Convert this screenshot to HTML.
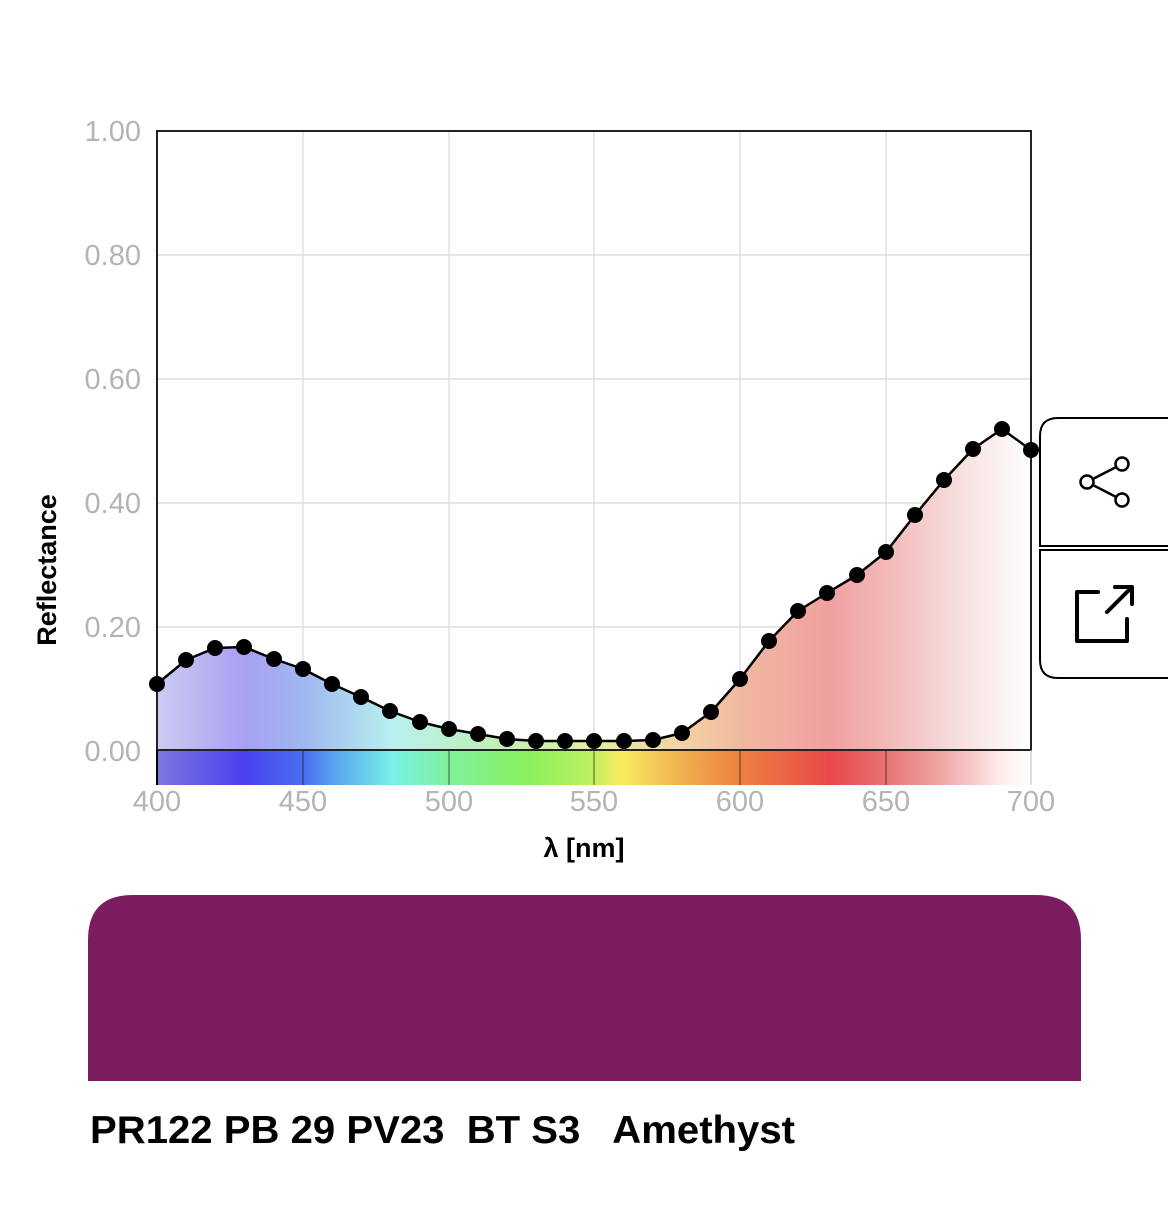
<!DOCTYPE html>
<html><head><meta charset="utf-8"><style>
body{margin:0;background:#fff;width:1170px;height:1228px;overflow:hidden;font-family:"Liberation Sans",sans-serif;}
</style></head><body>
<svg width="1170" height="1228" xmlns="http://www.w3.org/2000/svg" style="position:absolute;left:0;top:0">
<defs>
<linearGradient id="bar" x1="157" x2="1031" y1="0" y2="0" gradientUnits="userSpaceOnUse">
<stop offset="0" stop-color="#7a78e0"/><stop offset="0.1" stop-color="#4a40f0"/><stop offset="0.17" stop-color="#4a70f0"/>
<stop offset="0.2" stop-color="#56a0f0"/><stop offset="0.27" stop-color="#7af0e8"/><stop offset="0.33" stop-color="#80f0a0"/>
<stop offset="0.42" stop-color="#88f060"/><stop offset="0.5" stop-color="#c0f060"/><stop offset="0.53" stop-color="#f8ec60"/>
<stop offset="0.6" stop-color="#f0b050"/><stop offset="0.67" stop-color="#ec8040"/><stop offset="0.77" stop-color="#e84848"/>
<stop offset="0.83" stop-color="#e87070"/><stop offset="0.9" stop-color="#f0a8a8"/><stop offset="0.97" stop-color="#fff0f0"/><stop offset="1" stop-color="#fff"/>
</linearGradient>
<linearGradient id="fill" x1="157" x2="1031" y1="0" y2="0" gradientUnits="userSpaceOnUse">
<stop offset="0" stop-color="#ccccf2"/><stop offset="0.1" stop-color="#a8a0f2"/><stop offset="0.17" stop-color="#a0b8f0"/>
<stop offset="0.27" stop-color="#b8f0f0"/><stop offset="0.4" stop-color="#c0f0b0"/><stop offset="0.5" stop-color="#e4f0a0"/>
<stop offset="0.6" stop-color="#f4d2a4"/><stop offset="0.67" stop-color="#f0b8a0"/><stop offset="0.77" stop-color="#f0a0a0"/>
<stop offset="0.83" stop-color="#f2b6b6"/><stop offset="0.93" stop-color="#f8e4e4"/><stop offset="1" stop-color="#fff"/>
</linearGradient>
</defs>
<g stroke="#d8d8d8" stroke-width="1.2">
<line x1="157" x2="1031" y1="255" y2="255"/><line x1="157" x2="1031" y1="379" y2="379"/><line x1="157" x2="1031" y1="503" y2="503"/><line x1="157" x2="1031" y1="627" y2="627"/>
<line x1="303" x2="303" y1="131" y2="750"/><line x1="449" x2="449" y1="131" y2="750"/><line x1="594" x2="594" y1="131" y2="750"/><line x1="740" x2="740" y1="131" y2="750"/><line x1="886" x2="886" y1="131" y2="750"/>
</g>
<path fill="url(#fill)" d="M157,684 L186,660 L215,648 L244,647 L274,659 L303,669 L332,684 L361,697 L390,711 L420,722 L449,729 L478,734 L507,739 L536,741 L565,741 L594,741 L624,741 L653,740 L682,733 L711,712 L740,679 L769,641 L798,611 L827,593 L857,575 L886,552 L915,515 L944,480 L973,449 L1002,429 L1031,450 L1031,750 L157,750Z"/>
<rect x="157" y="750" width="874" height="35" fill="url(#bar)"/>
<g stroke="rgba(0,0,0,0.5)" stroke-width="1.2"><line x1="303" x2="303" y1="750" y2="785"/><line x1="449" x2="449" y1="750" y2="785"/><line x1="594" x2="594" y1="750" y2="785"/><line x1="740" x2="740" y1="750" y2="785"/><line x1="886" x2="886" y1="750" y2="785"/></g>
<rect x="157" y="131" width="874" height="619" fill="none" stroke="#222" stroke-width="2"/>
<line x1="157" x2="157" y1="750" y2="785" stroke="#000" stroke-width="2"/>
<line x1="1031" x2="1031" y1="750" y2="785" stroke="#bbb" stroke-width="1"/>
<path fill="none" stroke="#000" stroke-width="2.5" stroke-linejoin="round" d="M157,684 L186,660 L215,648 L244,647 L274,659 L303,669 L332,684 L361,697 L390,711 L420,722 L449,729 L478,734 L507,739 L536,741 L565,741 L594,741 L624,741 L653,740 L682,733 L711,712 L740,679 L769,641 L798,611 L827,593 L857,575 L886,552 L915,515 L944,480 L973,449 L1002,429 L1031,450"/>
<g fill="#000">
<circle cx="157" cy="684" r="8"/><circle cx="186" cy="660" r="8"/><circle cx="215" cy="648" r="8"/><circle cx="244" cy="647" r="8"/><circle cx="274" cy="659" r="8"/><circle cx="303" cy="669" r="8"/><circle cx="332" cy="684" r="8"/><circle cx="361" cy="697" r="8"/><circle cx="390" cy="711" r="8"/><circle cx="420" cy="722" r="8"/><circle cx="449" cy="729" r="8"/><circle cx="478" cy="734" r="8"/><circle cx="507" cy="739" r="8"/><circle cx="536" cy="741" r="8"/><circle cx="565" cy="741" r="8"/><circle cx="594" cy="741" r="8"/><circle cx="624" cy="741" r="8"/><circle cx="653" cy="740" r="8"/><circle cx="682" cy="733" r="8"/><circle cx="711" cy="712" r="8"/><circle cx="740" cy="679" r="8"/><circle cx="769" cy="641" r="8"/><circle cx="798" cy="611" r="8"/><circle cx="827" cy="593" r="8"/><circle cx="857" cy="575" r="8"/><circle cx="886" cy="552" r="8"/><circle cx="915" cy="515" r="8"/><circle cx="944" cy="480" r="8"/><circle cx="973" cy="449" r="8"/><circle cx="1002" cy="429" r="8"/><circle cx="1031" cy="450" r="8"/>
</g>
<g font-size="29" fill="#b4b4b4" text-anchor="end" font-family="Liberation Sans,sans-serif">
<text x="141" y="141">1.00</text><text x="141" y="265">0.80</text><text x="141" y="389">0.60</text><text x="141" y="513">0.40</text><text x="141" y="637">0.20</text><text x="141" y="761">0.00</text>
</g>
<g font-size="29" fill="#b4b4b4" text-anchor="middle" font-family="Liberation Sans,sans-serif">
<text x="157" y="811">400</text><text x="303" y="811">450</text><text x="449" y="811">500</text><text x="594" y="811">550</text><text x="740" y="811">600</text><text x="886" y="811">650</text><text x="1031" y="811">700</text>
</g>
<text x="584" y="857" font-size="27" font-weight="bold" text-anchor="middle" fill="#000">λ [nm]</text>
<text transform="translate(56,570) rotate(-90)" font-size="27" font-weight="bold" text-anchor="middle" fill="#000">Reflectance</text>
<path d="M1168,418 L1058,418 Q1040,418 1040,436 L1040,546 L1168,546" fill="#fff" stroke="#000" stroke-width="2"/>
<path d="M1168,550 L1040,550 L1040,660 Q1040,678 1058,678 L1168,678" fill="#fff" stroke="#000" stroke-width="2"/>
<g fill="#fff" stroke="#000" stroke-width="2.5">
<line x1="1087" y1="482" x2="1122" y2="464"/><line x1="1087" y1="482" x2="1122" y2="500"/>
<circle cx="1087" cy="482" r="6.5"/><circle cx="1122" cy="464" r="6.5"/><circle cx="1122" cy="500" r="6.5"/>
</g>
<g fill="none" stroke="#000" stroke-width="4" stroke-linecap="round" stroke-linejoin="round">
<path d="M1098,592 L1077,592 L1077,641 L1127,641 L1127,619"/><path d="M1107,612 L1132,587 M1115,587 L1132,587 L1132,604"/>
</g>
<path d="M88,1081 L88,940 Q88,895 133,895 L1036,895 Q1081,895 1081,940 L1081,1081Z" fill="#7b1c5e"/>
<text x="90" y="1143" font-size="39" font-weight="bold" fill="#000" xml:space="preserve" textLength="705" lengthAdjust="spacingAndGlyphs">PR122 PB 29 PV23  BT S3   Amethyst</text>
</svg>
</body></html>
